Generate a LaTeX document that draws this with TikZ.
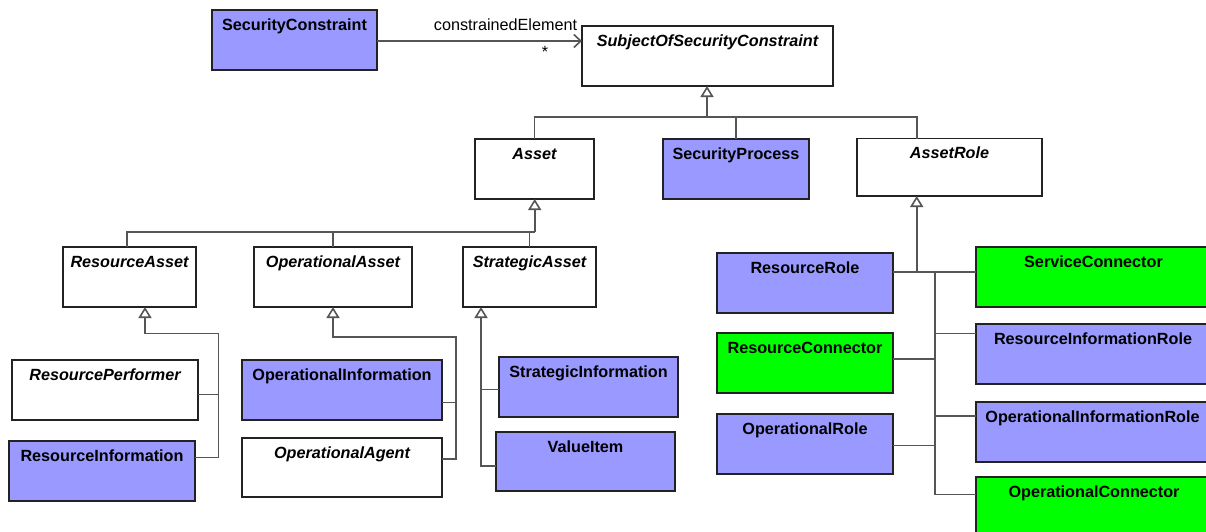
\documentclass[tikz,border=0pt]{standalone}
\usepackage{fontspec}
\setmainfont{Liberation Sans}
\usetikzlibrary{calc,arrows.meta}
\definecolor{cblue}{HTML}{9999FF}
\definecolor{cgreen}{HTML}{00FF00}
\definecolor{cline}{HTML}{555555}
\definecolor{cbord}{HTML}{222222}
\tikzset{
  box/.style={draw=cbord, line width=1.7pt, rectangle, inner sep=0pt, outer sep=0pt},
  bluebox/.style={box, fill=cblue},
  greenbox/.style={box, fill=cgreen},
  whitebox/.style={box, fill=white},
  conn/.style={draw=cline, line width=1.6pt},
  gen/.style={conn, -{Triangle[open, length=11pt, width=13pt, fill=white]}},
  assoc/.style={conn, -{Straight Barb[length=7pt, width=13pt]}},
  lbl/.style={inner sep=0pt, anchor=base, font=\fontsize{16.2}{19}\selectfont},
}
\newcommand\umlcls[7]{%
  \node[#2, minimum width={#5-#3}, minimum height={#6-#4}] (#1) at ({(#3+#5)/2},{(#4+#6)/2}) {};
  \node[lbl] (#1-t) at ($(#1.north)+(0,20)$) {#7};
}
\begin{document}
\begin{tikzpicture}[x=1pt, y=-1pt]
\clip (0,0) rectangle (1206,531);
\fill[white] (0,0) rectangle (1206,531);
% classes
\umlcls{sc}{bluebox}{212}{10}{377}{70}{\bfseries SecurityConstraint}
\umlcls{sosc}{whitebox}{582}{26}{833}{86}{\bfseries\itshape SubjectOfSecurityConstraint}
\umlcls{asset}{whitebox}{475}{139}{594}{199}{\bfseries\itshape Asset}
\umlcls{sp}{bluebox}{663}{139}{809}{199}{\bfseries SecurityProcess}
\umlcls{arole}{whitebox}{857}{138.5}{1042}{196}{\bfseries\itshape AssetRole}
\umlcls{ra}{whitebox}{63}{247}{196}{307}{\bfseries\itshape ResourceAsset}
\umlcls{oa}{whitebox}{254}{247}{412}{307}{\bfseries\itshape OperationalAsset}
\umlcls{sa}{whitebox}{463}{247}{596}{307}{\bfseries\itshape StrategicAsset}
\umlcls{rp}{whitebox}{12}{360}{198}{420}{\bfseries\itshape ResourcePerformer}
\umlcls{ri}{bluebox}{9}{441}{195}{501}{\bfseries ResourceInformation}
\umlcls{oi}{bluebox}{242}{360}{442}{420}{\bfseries OperationalInformation}
\umlcls{oag}{whitebox}{242}{438}{442}{497}{\bfseries\itshape OperationalAgent}
\umlcls{si}{bluebox}{499}{357}{678}{417}{\bfseries StrategicInformation}
\umlcls{vi}{bluebox}{496}{432}{675}{491}{\bfseries ValueItem}
\umlcls{rr}{bluebox}{717}{253}{893}{313}{\bfseries ResourceRole}
\umlcls{rc}{greenbox}{717}{333}{893}{393}{\bfseries ResourceConnector}
\umlcls{orl}{bluebox}{717}{414}{893}{474}{\bfseries OperationalRole}
\umlcls{svc}{greenbox}{976}{247}{1211}{307}{\bfseries ServiceConnector}
\umlcls{rir}{bluebox}{976}{324}{1210}{384}{\bfseries ResourceInformationRole}
\umlcls{oir}{bluebox}{976}{402}{1209}{462}{\bfseries OperationalInformationRole}
\umlcls{oc}{greenbox}{976}{477}{1212}{537}{\bfseries OperationalConnector}
% association
\draw[assoc] ($(sc.north east)+(0,31)$) coordinate (ascs) -- (ascs -| sosc.west);
\node[lbl] (aname) at (505.5,30) {constrainedElement};
\node[lbl] (amult) at (545,57) {*};
% top generalization
\coordinate (b1) at (707,117);
\coordinate (arIn) at ($(arole.north west)+(59.7,0)$);
\draw[conn] (asset.north) |- (arIn |- b1) -- (arIn);
\draw[conn] (sp.north) -- (sp.north |- b1);
\draw[gen] (b1) -- (b1 |- sosc.south);
% asset generalization
\coordinate (b2) at (534.7,232);
\coordinate (raTop) at ($(ra.north west)+(63.7,0)$);
\draw[conn] (raTop) |- (b2);
\draw[conn] (oa.north) -- (oa.north |- b2);
\draw[conn] (sa.north) -- (sa.north |- b2);
\draw[gen] (b2) -- (b2 |- asset.south);
% resource asset
\coordinate (raIn) at (145,307);
\coordinate (rab) at (218.3,333.3);
\coordinate (riy) at (0,457.3);
\coordinate (rpy) at (0,394.3);
\draw[gen] (ri.east |- riy) -| (rab) -| (raIn);
\draw[conn] (rp.east |- rpy) -- (rab |- rpy);
% operational asset
\coordinate (oab) at (455.7,336.7);
\coordinate (oagy) at (0,459);
\coordinate (oiy) at (0,402.3);
\draw[gen] (oag.east |- oagy) -| (oab) -| (oa.south);
\draw[conn] (oi.east |- oiy) -- (oab |- oiy);
% strategic asset
\coordinate (saIn) at (481,307);
\coordinate (viy) at (0,466);
\coordinate (siy) at (0,389.3);
\draw[gen] (vi.west |- viy) -| (saIn);
\draw[conn] (si.west |- siy) -- (saIn |- siy);
% asset role
\coordinate (arb) at (916.7,271.7);
\coordinate (arv) at (935,271.7);
\coordinate (arvEnd) at (935,494.3);
\draw[gen] (arb) -- (arb |- arole.south);
\draw[conn] (rr.east |- arb) -- (svc.west |- arb);
\draw[conn] (arv) -- (arvEnd) -- (oc.west |- arvEnd);
\coordinate (riry) at (0,333.3);
\coordinate (oiry) at (0,415.7);
\coordinate (rcy) at (0,359);
\coordinate (orly) at (0,445.3);
\draw[conn] (rir.west |- riry) -- (arv |- riry);
\draw[conn] (oir.west |- oiry) -- (arv |- oiry);
\draw[conn] (rc.east |- rcy) -- (arv |- rcy);
\draw[conn] (orl.east |- orly) -- (arv |- orly);
\end{tikzpicture}
\end{document}
